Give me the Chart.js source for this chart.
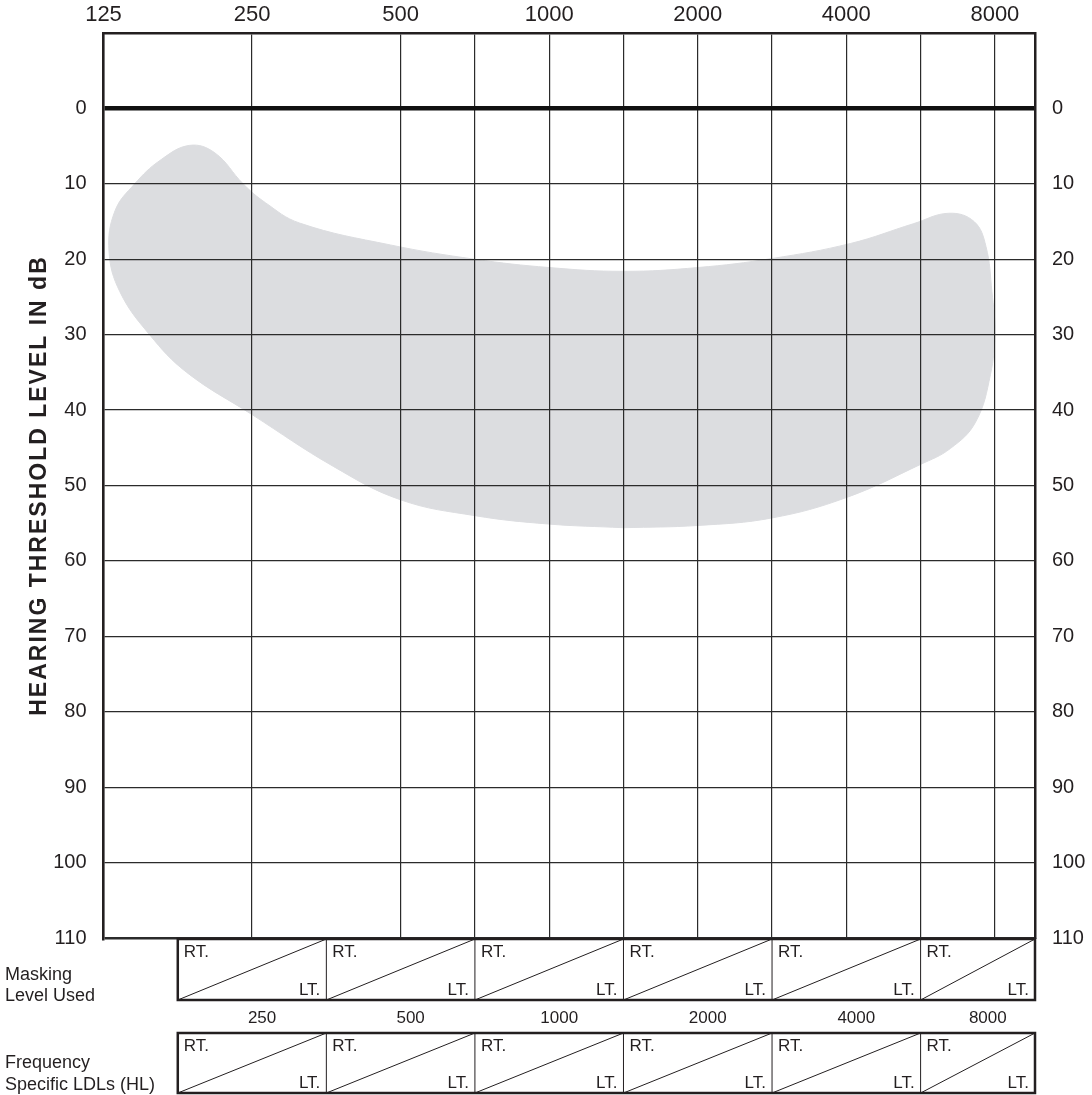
<!DOCTYPE html>
<html>
<head>
<meta charset="utf-8">
<script src="https://cdn.jsdelivr.net/npm/chart.js@4/dist/chart.umd.min.js"></script>
<style>
html,body{margin:0;padding:0;background:#ffffff;}
canvas{display:block;}
</style>
</head>
<body>
<canvas id="c" width="1092" height="1095"></canvas>
<script>
// ---- data ----
const freqLabels = ['125','250','500','1000','2000','4000','8000'];      // top axis labels (one per octave)
const gridOctaves = [0,1,2,2.5,3,3.5,4,4.5,5,5.5,6];                       // octaves above 125 Hz (incl. 750/1500/3000/6000 half-octave lines)
const dbTicks = [0,10,20,30,40,50,60,70,80,90,100,110];
const tableFreqs = ['250','500','1000','2000','4000','8000'];
const rowTitlesMasking = ['Masking','Level Used'];
const rowTitlesLDL = ['Frequency','Specific LDLs (HL)'];
const yTitle = 'HEARING THRESHOLD LEVEL IN dB';

// speech-banana outline (octaves above 125 Hz, dB HL), traced clockwise
const bananaOct = [3.5,2.99,2.5,2.0,1.55,1.0,0.56,0.31,0.11,0.037,0.077,0.21,0.38,0.58,0.75,0.94,1.09,1.32,1.93,2.5,3.0,3.5,4.0,4.5,5.03,5.45,5.69,5.86,5.94,5.98,6.0,5.97,5.87,5.7,5.5,5.0,4.5,4.0,3.5];
const bananaDb  = [55.6,55.1,54.0,51.9,47.5,40.6,35.0,30.0,24.3,18.9,13.6,10.0,6.9,4.9,5.9,10.0,12.5,15.2,18.1,20.0,21.1,21.6,21.1,19.9,17.9,15.3,13.9,15.0,18.3,24.3,29.6,35.3,41.6,45.1,47.2,51.6,54.3,55.3,55.6];

const X_MAX = 6.27;
const FONT = '"Liberation Sans", Arial, Helvetica, sans-serif';
const INK = '#231f20';
const GRID = '#2b2b2b';

const formsPlugin = {
  id: 'forms',
  afterDraw(chart) {
    const ctx = chart.ctx;
    const xs = chart.scales.x;
    const area = chart.chartArea;
    ctx.save();

    // y-axis title with letter spacing
    ctx.save();
    ctx.translate(45.5, (area.top + area.bottom) / 2);
    ctx.rotate(-Math.PI / 2);
    ctx.font = 'bold 23px ' + FONT;
    try { ctx.letterSpacing = '2px'; } catch (e) {}
    ctx.fillStyle = INK;
    ctx.textAlign = 'center';
    ctx.textBaseline = 'alphabetic';
    ctx.fillText(yTitle, 0, 0);
    ctx.restore();

    const centers = tableFreqs.map(f => Math.log2(Number(f) / 125));
    const edges = centers.map(c => xs.getPixelForValue(c - 0.5));
    edges.push(xs.getPixelForValue(Math.min(centers[centers.length - 1] + 0.5, xs.max)));

    const rows = [
      {top: area.bottom + 1, bottom: area.bottom + 62},
      {top: area.bottom + 95, bottom: area.bottom + 155}
    ];
    rows.forEach(r => {
      ctx.strokeStyle = INK;
      ctx.lineWidth = 1;
      for (let i = 0; i < centers.length; i++) {
        const l = edges[i], rr = edges[i + 1];
        ctx.beginPath();
        ctx.moveTo(l, r.bottom);
        ctx.lineTo(rr, r.top);
        ctx.stroke();
        if (i > 0) {
          ctx.beginPath();
          ctx.moveTo(l, r.top);
          ctx.lineTo(l, r.bottom);
          ctx.stroke();
        }
        ctx.fillStyle = INK;
        ctx.font = '17px ' + FONT;
        ctx.textAlign = 'left';
        ctx.textBaseline = 'alphabetic';
        ctx.fillText('RT.', l + 6, r.top + 18);
        ctx.textAlign = 'right';
        ctx.fillText('LT.', rr - 6, r.bottom - 5);
      }
      ctx.lineWidth = 2.5;
      ctx.strokeRect(edges[0], r.top, edges[edges.length - 1] - edges[0], r.bottom - r.top);
    });

    // frequency labels between the two forms
    ctx.fillStyle = INK;
    ctx.font = '17px ' + FONT;
    ctx.textAlign = 'center';
    ctx.textBaseline = 'alphabetic';
    for (let i = 0; i < centers.length; i++) {
      const cx = (edges[i] + edges[i + 1]) / 2 + 10;
      ctx.fillText(tableFreqs[i], cx, area.bottom + 85);
    }

    // row titles
    ctx.font = '18px ' + FONT;
    ctx.textAlign = 'left';
    ctx.fillText(rowTitlesMasking[0], 5, area.bottom + 42);
    ctx.fillText(rowTitlesMasking[1], 5, area.bottom + 63);
    ctx.fillText(rowTitlesLDL[0], 5, area.bottom + 130);
    ctx.fillText(rowTitlesLDL[1], 5, area.bottom + 152);
    ctx.restore();
  }
};

const yGridWidth = c => c.tick.value === 0 ? 4.5 : (c.tick.value === 110 ? 2.5 : 1.2);
const yGridColor = c => c.tick.value === 0 ? '#111111' : GRID;

new Chart(document.getElementById('c'), {
  type: 'line',
  data: {
    datasets: [{
      data: bananaOct.map((x, i) => ({x: x, y: bananaDb[i]})),
      xAxisID: 'x',
      yAxisID: 'y',
      fill: 'shape',
      backgroundColor: '#dcdde0',
      borderColor: '#dcdde0',
      borderWidth: 1,
      pointRadius: 0,
      tension: 0.4
    }]
  },
  options: {
    responsive: false,
    animation: false,
    devicePixelRatio: 1,
    layout: {padding: {top: 0, left: 0, right: 0, bottom: 157}},
    plugins: {legend: {display: false}, tooltip: {enabled: false}},
    scales: {
      x: {
        type: 'linear', position: 'top', min: 0, max: X_MAX,
        afterBuildTicks: s => { s.ticks = gridOctaves.map(v => ({value: v})); },
        afterFit: s => { s.height = 33; },
        ticks: {
          autoSkip: false, maxRotation: 0, minRotation: 0, padding: 5,
          font: {family: FONT, size: 22}, color: INK,
          callback: v => Number.isInteger(v) ? freqLabels[v] : ''
        },
        grid: {color: GRID, lineWidth: 1.2, drawTicks: false, z: 1},
        border: {display: true, color: INK, width: 2.5, z: 2}
      },
      y: {
        type: 'linear', position: 'left', reverse: true, min: -10, max: 110,
        afterBuildTicks: s => { s.ticks = dbTicks.map(v => ({value: v})); },
        afterFit: s => { s.width = 103.5; },
        ticks: {autoSkip: false, padding: 17, font: {family: FONT, size: 20}, color: INK},
        grid: {color: yGridColor, lineWidth: yGridWidth, drawTicks: false, z: 1},
        border: {display: true, color: INK, width: 2.5, z: 2}
      },
      y2: {
        type: 'linear', position: 'right', reverse: true, min: -10, max: 110,
        afterBuildTicks: s => { s.ticks = dbTicks.map(v => ({value: v})); },
        afterFit: s => { s.width = 57; },
        ticks: {autoSkip: false, padding: 17, font: {family: FONT, size: 20}, color: INK},
        grid: {display: false, drawTicks: false},
        border: {display: true, color: INK, width: 2.5, z: 2}
      }
    }
  },
  plugins: [formsPlugin]
});
</script>
</body>
</html>
